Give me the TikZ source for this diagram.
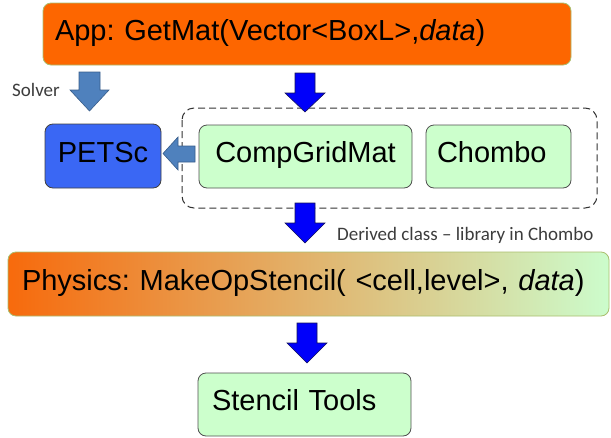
\documentclass[tikz,border=0pt]{standalone}
\usepackage{fontspec}
\setmainfont{Liberation Sans}
\newfontfamily\smallfam{Carlito}
\frenchspacing
\definecolor{apporange}{RGB}{253,102,0}
\definecolor{appborder}{RGB}{170,190,110}
\definecolor{petscblue}{RGB}{58,103,244}
\definecolor{boxgreen}{RGB}{204,255,204}
\definecolor{boxborder}{RGB}{80,80,80}
\definecolor{steel}{RGB}{79,129,189}
\definecolor{steelborder}{RGB}{56,93,138}
\definecolor{pureblue}{RGB}{0,0,250}
\definecolor{navyborder}{RGB}{20,20,90}
\definecolor{phleft}{RGB}{247,106,12}
\definecolor{phright}{RGB}{204,252,204}
\definecolor{labelgray}{RGB}{60,60,60}
\tikzset{
  bigtext/.style={font=\fontsize{29}{34}\selectfont},
  boxnode/.style={rounded corners=8pt, line width=0.8pt, bigtext, inner ysep=0pt,
                  text height=21pt, text depth=9pt},
  greenbox/.style={boxnode, draw=boxborder, fill=boxgreen},
  steelarrow/.style={fill=steel, draw=steelborder, line width=0.6pt, line join=miter},
  bluearrow/.style={fill=pureblue, draw=navyborder, line width=0.6pt, line join=miter},
  smalllabel/.style={font=\smallfam\fontsize{19}{22}\selectfont, text=labelgray, inner sep=0pt},
  groupbox/.style={draw=black!80, dash pattern=on 7pt off 4pt, line width=1pt, rounded corners=12pt}
}
\begin{document}
\begin{tikzpicture}[x=1pt,y=-1pt]
\useasboundingbox (0,0) rectangle (611,437);

% group frame
\draw[groupbox] (182,108) rectangle (597,208);

% boxes
\node[boxnode, draw=appborder, fill=apporange, minimum width=528pt, minimum height=62pt,
      inner xsep=12pt, text width=504pt, align=left] (app) at (307,34)
      {App: GetMat(Vector<BoxL>,\textit{data})};
\node[boxnode, draw=black!75, fill=petscblue, minimum width=116pt, minimum height=64pt,
      inner xsep=0pt, text width=116pt, align=center] (petsc) at (103,156) {PETSc};
\node[greenbox, minimum width=213pt, minimum height=63pt, inner xsep=0pt,
      text width=213pt, align=center] (cgm) at (305.5,156.5) {CompGridMat};
\node[greenbox, minimum width=145pt, minimum height=63pt, inner xsep=11pt,
      text width=123pt, align=left] (chombo) at (498.5,156.5) {Chombo};
\shade[left color=phleft, right color=phright, rounded corners=8pt]
      (8,252) rectangle (609,316);
\node[boxnode, draw=appborder, minimum width=601pt, minimum height=64pt,
      inner xsep=14pt, text width=573pt, align=left] (phys) at (308.5,284)
      {Physics: MakeOpStencil( <cell,level>, \textit{data})};
\node[greenbox, minimum width=213pt, minimum height=63pt, inner xsep=14pt,
      text width=185pt, align=left] (stencil) at (304.5,404.5) {Stencil Tools};

% labels
\node[smalllabel] (solverlbl) at (36,90) {Solver};
\node[smalllabel, anchor=west] (derivedlbl) at (337,235) {Derived class – library in Chombo};

% block arrows
\draw[steelarrow] (79,72) -- (100,72) -- (100,90) -- (109,90) -- (89.5,111) -- (70,90) -- (79,90) -- cycle;
\draw[steelarrow] (195,146) -- (195,162) -- (178,162) -- (178,170) -- (163,153.5) -- (178,137) -- (178,146) -- cycle;
\draw[bluearrow] (295,73) -- (315,73) -- (315,93) -- (325,93) -- (305,112) -- (285,93) -- (295,93) -- cycle;
\draw[bluearrow] (295,203) -- (315,203) -- (315,223) -- (325,223) -- (305,243) -- (285,223) -- (295,223) -- cycle;
\draw[bluearrow] (297,323) -- (317,323) -- (317,343) -- (327,343) -- (307,363) -- (287,343) -- (297,343) -- cycle;
\end{tikzpicture}
\end{document}
